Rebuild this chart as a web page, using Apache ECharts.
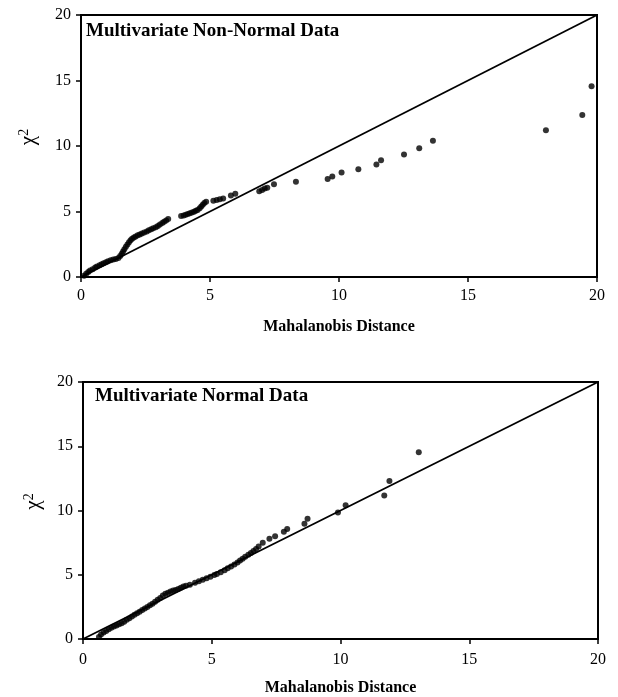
<!DOCTYPE html>
<html>
<head>
<meta charset="utf-8">
<script src="https://cdn.jsdelivr.net/npm/echarts@6/dist/echarts.min.js"></script>
<style>
  html, body { margin: 0; padding: 0; background: #fff; }
  #main { width: 618px; height: 697px; }
</style>
</head>
<body>
<div id="main"></div>
<script>
// 数据：上图（非正态）与下图（正态），[马氏距离, 卡方分位数]
var nonNormal = [
  [0.12,0.10],[0.2,0.25],[0.28,0.38],[0.35,0.5],[0.45,0.6],[0.55,0.72],[0.62,0.8],[0.72,0.9],
  [0.8,0.98],[0.88,1.05],[0.97,1.12],[1.05,1.2],[1.15,1.27],[1.25,1.33],[1.35,1.38],[1.45,1.45],
  [1.52,1.6],[1.58,1.78],[1.63,1.95],[1.68,2.12],[1.74,2.3],[1.8,2.48],[1.86,2.65],[1.92,2.8],
  [1.98,2.92],[2.05,3.02],[2.12,3.1],[2.2,3.18],[2.28,3.25],[2.36,3.32],[2.45,3.4],[2.55,3.48],
  [2.63,3.56],[2.72,3.64],[2.8,3.72],[2.9,3.8],[2.98,3.9],[3.06,4.0],[3.15,4.12],[3.22,4.22],
  [3.3,4.32],[3.38,4.42],
  [3.88,4.65],[3.98,4.7],[4.06,4.75],[4.14,4.8],[4.22,4.86],[4.3,4.92],[4.38,4.98],[4.45,5.05],
  [4.52,5.12],[4.6,5.25],[4.66,5.38],[4.72,5.52],[4.78,5.65],[4.85,5.75],
  [5.13,5.82],[5.26,5.88],[5.38,5.94],[5.51,6.0],[5.81,6.22],[5.98,6.36],
  [6.91,6.55],[7.02,6.65],[7.12,6.75],[7.22,6.82],[7.48,7.08],[8.33,7.28],
  [9.56,7.49],[9.74,7.67],[10.1,7.97],[10.75,8.22],[11.45,8.58],[11.63,8.91],[12.52,9.35],
  [13.11,9.83],[13.64,10.4],[18.02,11.21],[19.43,12.36],[19.79,14.56]
];
var normal = [
  [0.62,0.15],[0.7,0.35],[0.8,0.5],[0.9,0.62],[1.0,0.75],[1.1,0.88],[1.2,0.98],[1.3,1.05],
  [1.4,1.15],[1.5,1.22],[1.6,1.35],[1.7,1.5],[1.8,1.62],[1.9,1.75],[2.0,1.88],[2.1,2.0],
  [2.2,2.12],[2.3,2.25],[2.4,2.38],[2.5,2.5],[2.6,2.62],[2.7,2.75],[2.8,2.9],[2.9,3.05],
  [3.0,3.2],[3.1,3.38],[3.2,3.52],[3.3,3.6],[3.4,3.7],[3.5,3.78],[3.6,3.82],[3.7,3.9],
  [3.8,3.98],[3.9,4.08],[4.0,4.15],[4.15,4.22],[4.35,4.38],[4.5,4.5],[4.65,4.62],[4.8,4.72],
  [4.95,4.85],[5.1,4.98],[5.2,5.05],[5.35,5.2],[5.5,5.35],[5.62,5.5],[5.75,5.65],[5.88,5.8],
  [6.0,5.95],[6.1,6.1],[6.2,6.25],[6.3,6.4],[6.42,6.55],[6.52,6.7],[6.62,6.85],[6.72,7.0],
  [6.82,7.2],[6.98,7.5],[7.24,7.8],[7.46,8.0],[7.8,8.35],[7.93,8.57],[8.6,8.96],[8.72,9.36],
  [9.9,9.84],[10.2,10.4],[11.7,11.17],[11.9,12.3],[13.04,14.54]
];
var refLine = [[0, 0], [20, 20]];
var panelTitles = ['Multivariate Non-Normal Data', 'Multivariate Normal Data'];
var xName = 'Mahalanobis Distance';

var serif = '"Liberation Serif", "DejaVu Serif", serif';
var myChart = echarts.init(document.getElementById('main'));

function xAxisOf(idx) {
  return {
    gridIndex: idx, type: 'value', min: 0, max: 20, interval: 5,
    name: xName, nameLocation: 'middle', nameGap: idx === 0 ? 42 : 41,
    nameTextStyle: { fontFamily: serif, fontWeight: 'bold', fontSize: 16, color: '#000' },
    axisLine: { lineStyle: { color: '#000', width: 2 } },
    axisTick: { length: 5, lineStyle: { color: '#000', width: 1.5 } },
    axisLabel: { fontFamily: serif, fontSize: 16, color: '#000', margin: idx === 0 ? 11 : 13 },
    splitLine: { show: false }
  };
}
function yAxisOf(idx) {
  return {
    gridIndex: idx, type: 'value', min: 0, max: 20, interval: 5,
    name: '{s|}{a|χ}{b|2}', nameLocation: 'middle', nameRotate: 90,
    nameGap: idx === 0 ? 41 : 38,
    nameTextStyle: {
      rich: {
        s: { width: 18 },
        a: { fontFamily: serif, fontSize: 21, color: '#000' },
        b: { fontFamily: serif, fontSize: 14, color: '#000', verticalAlign: 'top', padding: [0, 0, 9, 0] }
      }
    },
    axisLine: { lineStyle: { color: '#000', width: 2 } },
    axisTick: { length: 5, lineStyle: { color: '#000', width: 1.5 } },
    axisLabel: { fontFamily: serif, fontSize: 16, color: '#000', margin: 10 },
    splitLine: { show: false }
  };
}

var option = {
  backgroundColor: '#fff',
  animation: false,
  title: [
    { text: panelTitles[0], left: 81, top: 17,
      textStyle: { fontFamily: serif, fontWeight: 'bold', fontSize: 19, color: '#000' } },
    { text: panelTitles[1], left: 90, top: 382,
      textStyle: { fontFamily: serif, fontWeight: 'bold', fontSize: 19, color: '#000' } }
  ],
  grid: [
    { left: 81, top: 15, width: 516, height: 262, show: true, borderColor: '#000', borderWidth: 2, backgroundColor: 'transparent' },
    { left: 83, top: 382, width: 515, height: 259, show: true, borderColor: '#000', borderWidth: 2, backgroundColor: 'transparent' }
  ],
  xAxis: [xAxisOf(0), xAxisOf(1)],
  yAxis: [yAxisOf(0), yAxisOf(1)],
  series: [
    { type: 'line', xAxisIndex: 0, yAxisIndex: 0, data: refLine, symbol: 'none',
      lineStyle: { color: '#000', width: 1.8 } },
    { type: 'scatter', xAxisIndex: 0, yAxisIndex: 0, data: nonNormal, symbolSize: 6,
      itemStyle: { color: '#000' } },
    { type: 'line', xAxisIndex: 1, yAxisIndex: 1, data: refLine, symbol: 'none',
      lineStyle: { color: '#000', width: 1.8 } },
    { type: 'scatter', xAxisIndex: 1, yAxisIndex: 1, data: normal, symbolSize: 6,
      itemStyle: { color: '#000' } }
  ]
};

myChart.setOption(option);
</script>
</body>
</html>
